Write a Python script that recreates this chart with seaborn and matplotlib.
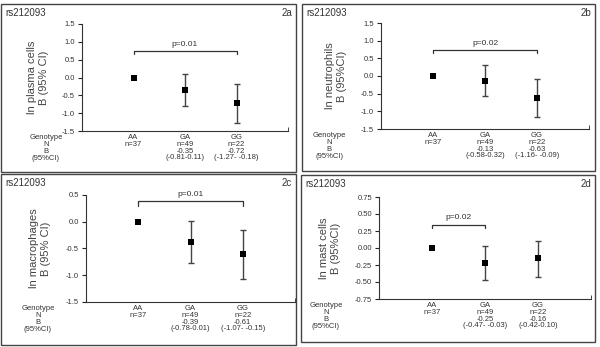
import matplotlib
matplotlib.use("Agg")
import matplotlib.pyplot as plt
import seaborn as sns
import pandas as pd
from matplotlib.patches import Rectangle

# datos
snp = "rs212093"
panel_ids = ["2a", "2b", "2c", "2d"]
ylabels = ["ln plasma cells\nB (95% CI)", "ln neutrophils\nB (95%CI)",
           "ln macrophages\nB (95% CI)", "ln mast cells\nB (95%CI)"]
genotypes = ["AA", "GA", "GG"]
n_vals = [37, 49, 22]

b_vals = {"2a": [0.0, -0.35, -0.72], "2b": [0.0, -0.13, -0.63],
          "2c": [0.0, -0.37, -0.60], "2d": [0.0, -0.22, -0.15]}
ci_low = {"2a": [0.0, -0.81, -1.27], "2b": [0.0, -0.58, -1.16],
          "2c": [0.0, -0.78, -1.07], "2d": [0.0, -0.47, -0.42]}
ci_high = {"2a": [0.0, 0.11, -0.18], "2b": [0.0, 0.32, -0.09],
           "2c": [0.0, 0.01, -0.15], "2d": [0.0, 0.03, 0.10]}
b_text = {"2a": ["", "-0.35", "-0.72"], "2b": ["", "-0.13", "-0.63"],
          "2c": ["", "-0.39", "-0.61"], "2d": ["", "-0.25", "-0.16"]}
ci_text = {"2a": ["", "(-0.81-0.11)", "(-1.27- -0.18)"],
           "2b": ["", "(-0.58-0.32)", "(-1.16- -0.09)"],
           "2c": ["", "(-0.78-0.01)", "(-1.07- -0.15)"],
           "2d": ["", "(-0.47- -0.03)", "(-0.42-0.10)"]}
p_text = {"2a": "p=0.01", "2b": "p=0.02", "2c": "p=0.01", "2d": "p=0.02"}
p_span = {"2a": (1, 3), "2b": (1, 3), "2c": (1, 3), "2d": (1, 2)}
p_y = {"2a": (0.74, 0.65), "2b": (0.73, 0.64), "2c": (0.38, 0.30), "2d": (0.345, 0.29)}
y_ticks = {"2a": [-1.5, -1.0, -0.5, 0.0, 0.5, 1.0, 1.5],
           "2b": [-1.5, -1.0, -0.5, 0.0, 0.5, 1.0, 1.5],
           "2c": [-1.5, -1.0, -0.5, 0.0, 0.5],
           "2d": [-0.75, -0.50, -0.25, 0.00, 0.25, 0.50, 0.75]}
y_fmt = {"2a": "{:.1f}", "2b": "{:.1f}", "2c": "{:.1f}", "2d": "{:.2f}"}

sns.set_style("white")
plt.rcParams["font.family"] = ["Liberation Sans", "DejaVu Sans"]

W, H = 600, 347
fig = plt.figure(figsize=(6, 3.47), dpi=100)
fig.patch.set_facecolor("white")

# caja del panel, ejes (izq, der, arriba, abajo), columna Genotype (x)
boxes = {"2a": (1, 4, 296, 172), "2b": (302, 4, 595, 171),
         "2c": (1, 174, 296, 345), "2d": (301, 175, 595, 342)}
axpos = {"2a": (82, 288, 24, 131), "2b": (381, 589, 23, 129),
         "2c": (86, 295, 195, 302), "2d": (379, 591, 197, 299)}
gen_x = {"2a": 46, "2b": 329, "2c": 38, "2d": 326}
ylab_x = {"2a": 38, "2b": 336, "2c": 40, "2d": 330}

col = "#333333"
txt = "#333333"
for i, pid in enumerate(panel_ids):
    x0, y0, x1, y1 = boxes[pid]
    fig.patches.append(Rectangle((x0 / W, 1 - y1 / H), (x1 - x0) / W, (y1 - y0) / H,
                                 transform=fig.transFigure, fill=False,
                                 edgecolor="#444444", lw=1.0))
    fig.text((x0 + 4) / W, 1 - (y0 + 9) / H, snp, fontsize=7, va="center", ha="left", color=txt)
    fig.text((x1 - 4) / W, 1 - (y0 + 9) / H, pid, fontsize=7, va="center", ha="right", color=txt)

    l, r, t, bt = axpos[pid]
    ax = fig.add_axes([l / W, 1 - bt / H, (r - l) / W, (bt - t) / H])

    xs = [1, 2, 3]
    df = pd.DataFrame({"x": xs, "b": b_vals[pid]})
    lo = [bv - c for bv, c in zip(b_vals[pid], ci_low[pid])]
    hi = [c - bv for bv, c in zip(b_vals[pid], ci_high[pid])]
    ax.errorbar(xs[1:], b_vals[pid][1:], yerr=[lo[1:], hi[1:]], fmt="none",
                ecolor="#444444", elinewidth=1.0, capsize=2.5, capthick=1.0)
    sns.scatterplot(data=df, x="x", y="b", marker="s", color="black", s=13,
                    edgecolor="black", linewidth=0, ax=ax, zorder=3)

    # corchete p
    a_, c_ = p_span[pid]
    yl, yt = p_y[pid]
    ax.plot([a_, a_, c_, c_], [yt, yl, yl, yt], color=col, lw=0.9)
    ax.text((a_ + c_) / 2, yl + 0.03 * (y_ticks[pid][-1] - y_ticks[pid][0]), p_text[pid],
            ha="center", va="bottom", fontsize=6, color=txt)

    yt_ = y_ticks[pid]
    ax.set_ylim(yt_[0], yt_[-1])
    ax.set_yticks(yt_)
    ax.set_yticklabels([y_fmt[pid].format(v) for v in yt_], fontsize=5.5, color=txt)
    ax.set_xlim(0, 4)
    labs = []
    for k, g in enumerate(genotypes):
        s = f"{g}\nn={n_vals[k]}"
        if b_text[pid][k]:
            s += f"\n{b_text[pid][k]}\n{ci_text[pid][k]}"
        labs.append(s)
    ax.set_xticks(xs)
    ax.set_xticklabels(labs, fontsize=5.5, linespacing=0.98, color=txt)
    ax.tick_params(axis="x", length=0, pad=2)
    ax.tick_params(axis="y", length=3, width=0.8, pad=2, direction="out", left=True)
    ax.set_xticks([0, 4], minor=True)
    ax.tick_params(axis="x", which="minor", length=3, direction="in", bottom=True)
    ax.set_xlabel("")
    ax.set_ylabel("")
    sns.despine(ax=ax)
    for sp in ["left", "bottom"]:
        ax.spines[sp].set_color(col)
        ax.spines[sp].set_linewidth(0.8)
    ax.set_facecolor("none")

    fig.text(ylab_x[pid] / W, 1 - ((t + bt) / 2) / H, ylabels[i], rotation=90,
             ha="center", va="center", fontsize=8, color="#444444", linespacing=1.15)
    fig.text(gen_x[pid] / W, 1 - (bt + 3) / H, "Genotype\nN\nB\n(95%CI)", ha="center",
             va="top", fontsize=5.5, linespacing=0.98, color=txt)

fig.savefig("out.png", dpi=100)
